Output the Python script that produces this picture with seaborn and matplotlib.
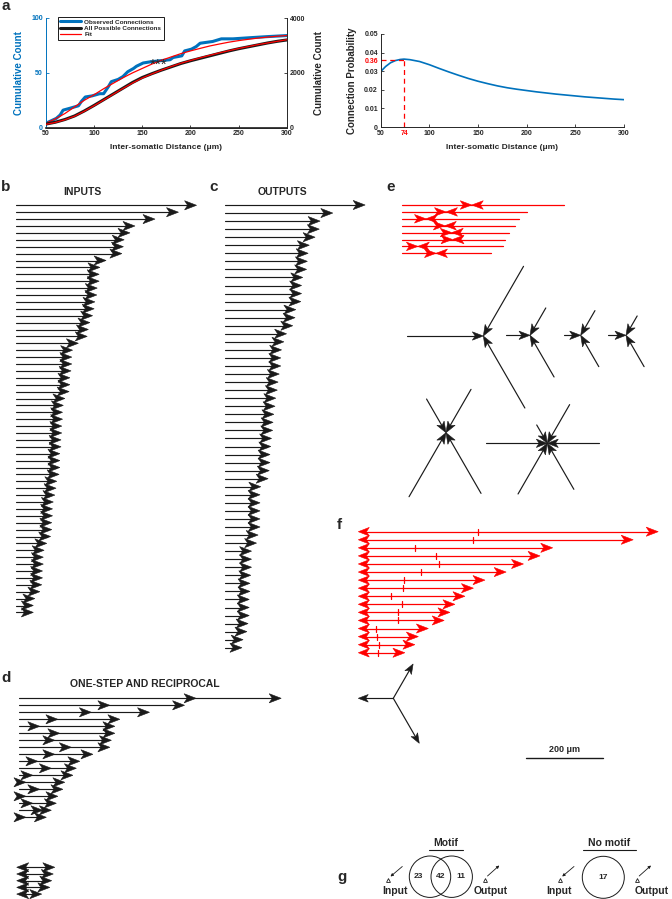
import numpy as np
import pandas as pd
import matplotlib
matplotlib.use("Agg")
import matplotlib.pyplot as plt
import seaborn as sns
from matplotlib.patches import Polygon, Circle
from matplotlib.lines import Line2D

# ------------------------------------------------------------------ data
# panel a (left): cumulative counts vs inter-somatic distance (um)
obs_dist = [50, 61, 65, 68, 75, 84, 87, 91, 98, 106, 110, 115, 118, 125, 130, 135, 141, 144,
            151, 158, 168, 179, 182, 191, 194, 201, 206, 210, 223, 232, 244, 261, 279, 300]
obs_count = [4, 8.5, 11.6, 16, 17.7, 20, 24, 28, 29, 31, 31, 37.5, 42, 44, 46.6, 51, 54, 56,
             59, 60, 61, 62, 64, 65.5, 70, 71.6, 74, 77, 78.6, 81, 81, 82, 83, 84]
grid_dist = [50, 60, 70, 80, 90, 100, 110, 120, 130, 140, 150, 160, 170, 180, 190, 200,
             210, 220, 230, 240, 250, 260, 270, 280, 290, 300]
fit_obs = [4, 8, 13, 19, 25, 30, 35.5, 40.5, 45.5, 50, 54, 58, 61.5, 64.5, 67.5, 70,
           72.3, 74.5, 76.3, 78, 79.4, 80.6, 81.7, 82.6, 83.4, 84]
all_count = [130, 200, 300, 430, 610, 810, 1020, 1230, 1440, 1650, 1830, 1970, 2100, 2220,
             2340, 2440, 2530, 2620, 2710, 2800, 2880, 2950, 3020, 3090, 3150, 3200]
fit_all = [120, 190, 290, 420, 600, 800, 1010, 1220, 1430, 1630, 1810, 1960, 2100, 2230,
           2350, 2450, 2550, 2640, 2730, 2810, 2890, 2960, 3030, 3090, 3150, 3210]
legend_labels = ["Observed Connections", "All Possible Connections", "Fit"]

# panel a (right): connection probability
prob_dist = [50, 55, 60, 65, 70, 74, 80, 90, 100, 110, 120, 130, 140, 150, 160, 170, 180,
             190, 200, 210, 220, 230, 240, 250, 260, 270, 280, 290, 300]
prob = [0.0298, 0.0325, 0.0345, 0.0357, 0.0363, 0.0365, 0.0362, 0.0352, 0.0335, 0.0315,
        0.0296, 0.0278, 0.0261, 0.0246, 0.0233, 0.0221, 0.0211, 0.0203, 0.0196, 0.0189,
        0.0183, 0.0177, 0.0172, 0.0167, 0.0162, 0.0158, 0.0154, 0.0150, 0.0147]
peak_dist = 74
peak_prob = 0.036
prob_xticks = [50, 74, 100, 150, 200, 250, 300]
prob_yticks = [0, 0.01, 0.02, 0.03, 0.036, 0.04, 0.05]
prob_yticklabels = ["0", "0.01", "0.02", "0.03", "0.36", "0.04", "0.05"]

# panel b: input distances (um)
inputs_um = [469, 422, 361, 309, 296, 281, 279, 275, 234, 218, 216, 216, 211, 210, 205, 203,
             199, 192, 188, 185, 162, 147, 145, 145, 143, 140, 140, 138, 127, 123, 121, 121,
             119, 119, 117, 117, 114, 114, 114, 112, 106, 104, 101, 97, 95, 95, 93, 93, 90,
             80, 73, 71, 71, 69, 69, 67, 62, 49, 45, 45]
# panel c: output distances (um)
outputs_um = [364, 280, 247, 245, 234, 219, 216, 214, 212, 202, 199, 199, 197, 184, 182, 176,
              160, 153, 147, 145, 145, 141, 138, 136, 132, 130, 127, 125, 124, 121, 119, 117,
              117, 115, 112, 93, 91, 91, 91, 91, 91, 86, 82, 69, 69, 69, 67, 65, 65, 63, 63,
              63, 60, 57, 47, 44]
# panel d: one-step chains (first and second step, um) and reciprocal pairs (um)
onestep_first_um = [460, 236, 188, 101, 54, 106, 93, 136, 93, 49, 84, 36, 18, 54, 18, 36, 62, 18]
onestep_second_um = [681, 430, 339, 262, 249, 249, 240, 236, 192, 158, 149, 140, 119, 114, 101, 97, 84, 71]
recip_um = [99, 95, 91, 86, 65]
# panel e: reciprocal red pairs (line length, pair position, um)
e_len_um = [422, 325, 305, 295, 279, 268, 264, 231]
e_pair_um = [182, 115, 63, 112, 130, 132, 42, 89]
# panel e: convergent motifs (spoke angle deg, spoke length um)
star_angles = [[180, 60, -60], [180, 60, -60], [180, 60, -60], [180, 60, -60],
               [120, 60, 240, 300], [180, 0, 120, 60, 240, 300]]
star_lengths = [[197, 209, 216], [62, 82, 125], [43, 74, 94], [46, 58, 94],
                [101, 130, 192, 182], [158, 135, 55, 116, 152, 138]]
# panel f: red arrows (length and mark position, um)
f_len_um = [779, 714, 505, 472, 429, 384, 329, 299, 277, 251, 238, 223, 182, 156, 147, 121]
f_mark_um = [312, 297, 147, 202, 210, 163, 119, 115, 84, 114, 102, 104, 46, 49, 54, 50]
# divergent triad (angle deg, length um)
triad_angles = [180, 60, -60]
triad_lengths = [91, 103, 135]
scale_um = 200
# panel g
motif_counts = [23, 42, 11]
nomotif_count = 17

# ------------------------------------------------------------------ style
BLUE = "#0072BD"
RED = "#FF0000"
PX = 0.385  # pixels per micrometre in the diagrams

sns.set_theme(style="ticks")
plt.rcParams["font.family"] = ["Liberation Sans", "DejaVu Sans"]
plt.rcParams["font.weight"] = "bold"
plt.rcParams["axes.labelweight"] = "bold"

fig = plt.figure(figsize=(6.72, 8.99), dpi=100)
ov = fig.add_axes([0, 0, 1, 1])
ov.set_xlim(0, 672)
ov.set_ylim(899, 0)
ov.axis("off")


def fax(l, t, r, b):
    return fig.add_axes([l / 672, 1 - b / 899, (r - l) / 672, (b - t) / 899])


def head(x, y, ux, uy, color="k", L=12.0, W=4.6):
    px, py = -uy, ux
    pts = [(x, y), (x - L * ux + W * px, y - L * uy + W * py),
           (x - 0.74 * L * ux, y - 0.74 * L * uy),
           (x - L * ux - W * px, y - L * uy - W * py)]
    ov.add_patch(Polygon(pts, closed=True, facecolor=color, edgecolor=color,
                         linewidth=0.4, zorder=3))


# ------------------------------------------------------------------ panel a left
axA = fax(45.7, 18, 287, 127.7)
sns.lineplot(x=obs_dist, y=obs_count, ax=axA, color=BLUE, lw=2.2, estimator=None)
sns.lineplot(x=grid_dist, y=fit_obs, ax=axA, color=RED, lw=0.9, estimator=None)
axA.set_xlim(50, 300)
axA.set_ylim(0, 100)
axA.set_xticks([50, 100, 150, 200, 250, 300])
axA.set_yticks([0, 50, 100])
axA.set_xlabel("Inter-somatic Distance (\u03bcm)", fontsize=6, labelpad=5)
axA.set_ylabel("Cumulative Count", fontsize=7, color=BLUE, labelpad=5)
axA.tick_params(axis="both", direction="in", length=2.5, width=0.6, labelsize=5, pad=2)
axA.tick_params(axis="y", colors=BLUE)
axA.spines["top"].set_visible(False)
axA.spines["right"].set_visible(False)
axA.spines["left"].set_color(BLUE)
for s in axA.spines.values():
    s.set_linewidth(0.7)
axA.text(167, 57, "***", ha="center", va="center", fontsize=11, fontweight="normal")

ax2 = axA.twinx()
sns.lineplot(x=grid_dist, y=all_count, ax=ax2, color="k", lw=2.2, estimator=None)
sns.lineplot(x=grid_dist, y=fit_all, ax=ax2, color=RED, lw=0.9, estimator=None)
ax2.set_ylim(0, 4000)
ax2.set_yticks([0, 2000, 4000])
ax2.set_ylabel("Cumulative Count", fontsize=7, labelpad=6)
ax2.tick_params(axis="y", direction="in", length=2.5, width=0.6, labelsize=5, pad=2)
ax2.spines["top"].set_visible(False)
ax2.spines["left"].set_visible(False)
ax2.spines["right"].set_linewidth(0.7)
handles = [Line2D([], [], color=BLUE, lw=2.2), Line2D([], [], color="k", lw=2.2),
           Line2D([], [], color=RED, lw=0.9)]
leg = ax2.legend(handles, legend_labels, loc="upper left", bbox_to_anchor=(0.05, 1.01),
                 fontsize=4.6, frameon=True, fancybox=False, edgecolor="k", framealpha=1,
                 handlelength=3.3, borderpad=0.35, labelspacing=0.15, handletextpad=0.5,
                 borderaxespad=0)
leg.get_frame().set_linewidth(0.7)

# ------------------------------------------------------------------ panel a right
axB = fax(380.7, 34, 624, 127)
sns.lineplot(x=prob_dist, y=prob, ax=axB, color=BLUE, lw=1.2, estimator=None)
axB.plot([peak_dist, peak_dist], [0, peak_prob], color=RED, ls=(0, (4, 3)), lw=0.9)
axB.plot([prob_dist[0], peak_dist], [peak_prob, peak_prob], color=RED, ls=(0, (4, 3)), lw=0.9)
axB.set_xlim(50, 300)
axB.set_ylim(0, 0.05)
axB.set_xticks(prob_xticks)
axB.set_xticklabels([str(v) for v in prob_xticks])
axB.set_yticks(prob_yticks)
axB.set_yticklabels(prob_yticklabels)
axB.get_xticklabels()[1].set_color(RED)
axB.get_yticklabels()[4].set_color(RED)
axB.tick_params(axis="both", direction="in", length=2.5, width=0.6, labelsize=5, pad=2)
axB.set_xlabel("Inter-somatic Distance (\u03bcm)", fontsize=6, labelpad=5)
axB.set_ylabel("Connection Probability", fontsize=7, labelpad=5)
axB.spines["top"].set_visible(False)
axB.spines["right"].set_visible(False)
for s in axB.spines.values():
    s.set_linewidth(0.7)

# ------------------------------------------------------------------ panel letters / titles
for lab, x, y in [("a", 1, 6), ("b", 1, 187), ("c", 209, 187), ("e", 386, 187),
                  ("d", 1, 678), ("f", 337, 525), ("g", 337, 877)]:
    ov.text(x, y, lab, fontsize=11, fontweight="bold", ha="left", va="center")
ov.text(82, 192, "INPUTS", fontsize=7.5, ha="center", va="center")
ov.text(282.5, 192, "OUTPUTS", fontsize=7.5, ha="center", va="center")
ov.text(145, 684, "ONE-STEP AND RECIPROCAL", fontsize=7.5, ha="center", va="center")

# ------------------------------------------------------------------ panel b
x0 = 16
for i, d in enumerate(inputs_um):
    y = 205.3 + i * 6.9
    x1 = x0 + d * PX
    ov.plot([x0, x1 - 4], [y, y], color="k", lw=0.85)
    head(x1, y, 1, 0)

# ------------------------------------------------------------------ panel c
x0 = 225
for i, d in enumerate(outputs_um):
    y = 205 + i * 8.05
    x1 = x0 + d * PX
    ov.plot([x0, x1 - 4], [y, y], color="k", lw=0.85)
    head(x1, y, 1, 0)

# ------------------------------------------------------------------ panel d
x0 = 19
for i, (d1, d2) in enumerate(zip(onestep_first_um, onestep_second_um)):
    y = 698.3 + i * 7.0
    ov.plot([x0, x0 + d2 * PX - 4], [y, y], color="k", lw=0.85)
    head(x0 + d1 * PX, y, 1, 0)
    head(x0 + d2 * PX, y, 1, 0)
x0 = 16.7
for i, d in enumerate(recip_um):
    y = 867.3 + i * 6.7
    ov.plot([x0 + 4, x0 + d * PX - 4], [y, y], color="k", lw=0.85)
    head(x0, y, -1, 0)
    head(x0 + d * PX, y, 1, 0)

# ------------------------------------------------------------------ panel e (red pairs)
x0 = 401.7
for i, (L, p) in enumerate(zip(e_len_um, e_pair_um)):
    y = 205 + i * 6.9
    ov.plot([x0, x0 + L * PX], [y, y], color=RED, lw=0.9)
    c = x0 + p * PX
    head(c, y, 1, 0, color=RED, L=11.5, W=4.3)
    head(c, y, -1, 0, color=RED, L=11.5, W=4.3)

# ------------------------------------------------------------------ panel e (convergent motifs)
star_centers = [(483.3, 336), (530, 335.3), (580.7, 335.3), (626, 335.3),
                (446, 432.7), (547.3, 443.3)]
for (cx, cy), angs, lens in zip(star_centers, star_angles, star_lengths):
    for a, L in zip(angs, lens):
        ux, uy = np.cos(np.radians(a)), -np.sin(np.radians(a))
        ov.plot([cx + ux * L * PX, cx + ux * 4], [cy + uy * L * PX, cy + uy * 4],
                color="k", lw=0.85)
        head(cx, cy, -ux, -uy, L=11, W=4.2)

# ------------------------------------------------------------------ panel f
x0 = 358.3
for i, (L, m) in enumerate(zip(f_len_um, f_mark_um)):
    y = 531.7 + i * 8.07
    x1 = x0 + L * PX
    ov.plot([x0 + 4, x1 - 4], [y, y], color=RED, lw=0.9)
    head(x1, y, 1, 0, color=RED)
    head(x0, y, -1, 0, color=RED, L=11, W=4.3)
    xm = x0 + m * PX
    ov.plot([xm, xm], [y - 3, y + 3], color=RED, lw=0.9)

# divergent triad
tcx, tcy = 393.3, 698.3
for a, L in zip(triad_angles, triad_lengths):
    ux, uy = np.cos(np.radians(a)), -np.sin(np.radians(a))
    x1, y1 = tcx + ux * L * PX, tcy + uy * L * PX
    ov.plot([tcx, x1 - ux * 4], [tcy, y1 - uy * 4], color="k", lw=0.85)
    head(x1, y1, ux, uy, L=10, W=3.8)

# scale bar
ov.plot([525.7, 525.7 + scale_um * PX], [758.3, 758.3], color="k", lw=1.0)
ov.text(525.7 + scale_um * PX / 2, 750, f"{scale_um} \u03bcm", fontsize=6.5,
        ha="center", va="center")

# ------------------------------------------------------------------ panel g
ov.text(445.5, 842.5, "Motif", fontsize=7.5, ha="center", va="center")
ov.plot([429.3, 462.7], [849.5, 849.5], color="k", lw=0.8)
ov.add_patch(Circle((430, 876.7), 20.7, fill=False, ec="k", lw=0.7))
ov.add_patch(Circle((451.7, 876.7), 20.7, fill=False, ec="k", lw=0.7))
for xx, n in zip([418, 441, 460.7], motif_counts):
    ov.text(xx, 877, str(n), fontsize=6, ha="center", va="center")
ov.text(609.3, 842.5, "No motif", fontsize=7.5, ha="center", va="center")
ov.plot([582.7, 636], [849.5, 849.5], color="k", lw=0.8)
ov.add_patch(Circle((603.3, 877.3), 21, fill=False, ec="k", lw=0.7))
ov.text(603.3, 877.3, str(nomotif_count), fontsize=6, ha="center", va="center")

for (tx, ty), (ax_, ay_), (bx_, by_), (lx, ltxt) in [
        ((388.3, 879.5), (402.3, 866.5), (390.5, 876.5), (395, "Input")),
        ((485, 879.5), (487.5, 876), (499.3, 865.5), (490.5, "Output")),
        ((560, 879.5), (574, 866.5), (562.2, 876.5), (559, "Input")),
        ((636.7, 879.5), (639.2, 876), (651, 865.5), (652, "Output"))]:
    ov.plot([tx], [ty], marker="^", ms=2.8, color="k", mfc="white", mew=0.6)
    ov.annotate("", xy=(bx_, by_), xytext=(ax_, ay_),
                arrowprops=dict(arrowstyle="-|>", lw=0.6, color="k", mutation_scale=4,
                                shrinkA=0, shrinkB=0))
    ov.text(lx, 890.5, ltxt, fontsize=7.5, ha="center", va="center")

fig.savefig("out.png", dpi=100)
